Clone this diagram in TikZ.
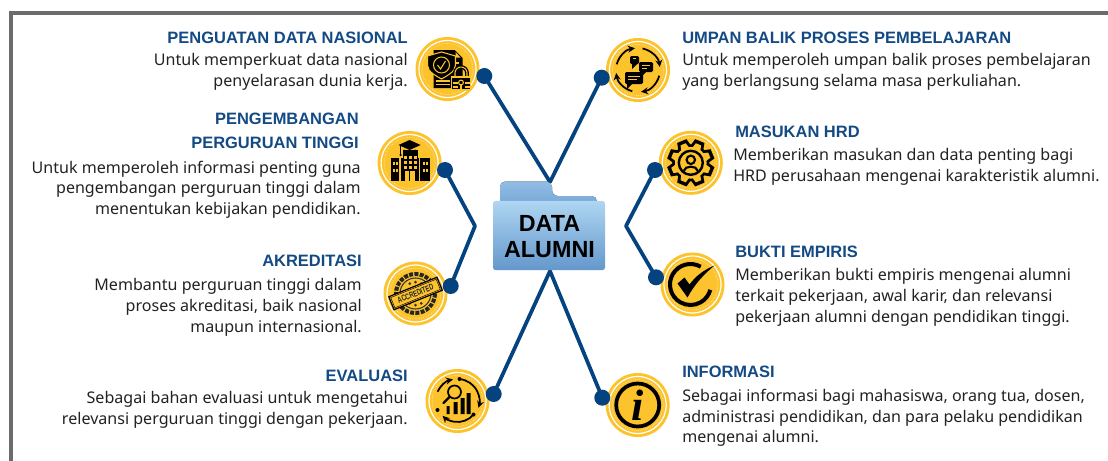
\documentclass[tikz,border=0pt]{standalone}
\usepackage{fontspec}
\setmainfont{Noto Sans}
\newfontfamily\serifi{Liberation Serif}
\newfontfamily\headf{Liberation Sans}
\definecolor{navy}{HTML}{04437F}
\definecolor{titleblue}{HTML}{134A84}
\definecolor{gold}{HTML}{FCC32C}
\definecolor{barcol}{HTML}{6B6B6B}
\definecolor{bodyc}{HTML}{222222}
\definecolor{fldA}{HTML}{AFD6F2}
\definecolor{fldB}{HTML}{6497CC}
\definecolor{tabA}{HTML}{8FBDE4}
\definecolor{tabB}{HTML}{6E9FD2}
\tikzset{
  x=0.75pt,y=-0.75pt,
  conn/.style={draw=navy,line width=2.8pt,line join=round},
  dot/.style={circle,fill=navy,minimum size=12pt,inner sep=0pt},
  ttl/.style={font=\fontsize{12.35}{14.5}\headf\bfseries,text=titleblue,inner sep=0pt},
  bodyR/.style={font=\fontsize{12.05}{15.4}\selectfont,text=bodyc,align=right,inner sep=0pt,anchor=north east},
  bodyL/.style={font=\fontsize{12.05}{15.4}\selectfont,text=bodyc,align=left,inner sep=0pt,anchor=north west},
  gline/.style={draw=gold,line width=0.8pt},
  arr/.style={draw=black,line width=1.3pt,->,>=stealth},
}
\newcommand{\badge}[1]{%
  \fill[gold] (#1) circle[radius=32];
  \draw[white,line width=0.9pt] (#1) circle[radius=28.5];
  \draw[white,line width=0.4pt,densely dotted] (#1) circle[radius=25.5];
}
\newcommand{\bubble}[4]{% x y w h
  \fill[black,rounded corners=1pt] (#1,#2) rectangle ++(#3,#4);
  \fill[black] (#1+2,#2+#4-1) -- ++(0,6) -- ++(6,-6) -- cycle;
  \draw[gline,line width=0.6pt] (#1+3,#2+#4*0.35) -- ++(#3-6,0) (#1+3,#2+#4*0.65) -- ++(#3-9,0);
}
% arc given in screen angles (counter-clockwise from the right), arrow at its end
\newcommand{\cyc}[3]{\draw[arr] ({-(#1)}:#3) arc ({-(#1)}:{-(#2)}:#3);}
\begin{document}
\begin{tikzpicture}
\useasboundingbox (0,0) rectangle (1108,461);
\fill[barcol] (9,11) rectangle (1108,15);
\fill[barcol] (9,11) rectangle (13,461);

% badges
\coordinate (pA) at (447.5,69);
\coordinate (pB) at (409.6,163);
\coordinate (pC) at (415.5,293.5);
\coordinate (pD) at (457.5,401);
\coordinate (pE) at (638,70);
\coordinate (pF) at (690.8,162.8);
\coordinate (pG) at (692.5,284.5);
\coordinate (pH) at (637.7,405);
\badge{pA}\badge{pB}\badge{pC}\badge{pD}\badge{pE}\badge{pF}\badge{pG}\badge{pH}

% junctions and connectors
\coordinate (top) at (550,182);
\coordinate (bot) at (550,271);
\coordinate (lj) at (475,226);
\coordinate (rj) at (626,226);
\draw[conn] (484.3,76) coordinate (cA) -- (top) -- (601.7,77.7) coordinate (cE);
\draw[conn] (445,170) coordinate (cB) -- (lj) -- (450.7,286) coordinate (cC);
\draw[conn] (655,170) coordinate (cF) -- (rj) -- (656,277.3) coordinate (cG);
\draw[conn] (493.7,394) coordinate (cD) -- (bot) -- (602.3,397.7) coordinate (cH);
\foreach \c in {A,B,C,D,E,F,G,H} {\node[dot] (d\c) at (c\c) {};}

% folder
\fill[rounded corners=4pt,top color=tabA,bottom color=tabB] (500,215) -- (500,181.5) -- (552,181.5) -- (552,196) -- (597,196) -- (597,215) -- cycle;
\node[rounded corners=2pt,top color=fldA,bottom color=fldB,minimum width=84pt,minimum height=52pt,inner sep=0pt] (folder) at (549,235.5) {};
\node[inner sep=0pt,align=center,font=\fontsize{17.5}{19.5}\headf\bfseries,text=black] (foldertext) at (549.5,237) {DATA\\ALUMNI};

% icon A: document, shield, lock
\begin{scope}[shift={(pA)}]
  \fill[black] (-14,-19) -- (7,-19) -- (15,-11) -- (15,19) -- (-14,19) -- cycle;
  \fill[gold] (8,-17) -- (13,-11.5) -- (8,-11.5) -- cycle;
  \draw[gline] (4,-6) -- (11,-6) (4,-1) -- (11,-1) (-12,12) -- (2,12) (-12,15.5) -- (2,15.5);
  \fill[black,draw=gold,line width=0.8pt] (-6,-17) -- (-20,-13) -- (-20,-4) .. controls (-20,3) and (-11,7) .. (-6,10) .. controls (-1,7) and (8,3) .. (8,-4) -- (8,-13) -- cycle;
  \draw[gline] (-6,-4) circle[radius=8];
  \draw[gline] (-10,-4) -- (-7,0) -- (-2,-8);
  \draw[black,line width=2.8pt] (7.5,9) -- (7.5,4) arc (180:360:6) -- (19.5,9);
  \draw[gold,line width=0.8pt] (7.5,9) -- (7.5,4) arc (180:360:6) -- (19.5,9);
  \fill[black,draw=gold,line width=0.8pt] (4,8) rectangle (23,21);
  \draw[gline] (5,14) -- (10,14) (17,14) -- (22,14) (5,18) -- (10,18) (17,18) -- (22,18);
  \draw[gline] (13.5,13.5) circle[radius=2.4];
  \draw[gline] (13.5,16) -- (13.5,20);
\end{scope}

% icon B: school building
\begin{scope}[shift={(pB)}]
  \fill[black] (-7,-13) rectangle (8,-5);
  \fill[black] (-9,-5) rectangle (9,18);
  \fill[black] (-19,-5) rectangle (-10.5,18);
  \fill[black] (10.5,-5) rectangle (20,18);
  \foreach \y in {-1,6} {
    \fill[gold] (-17,\y) rectangle (-15,\y+3);
    \fill[gold] (-14,\y) rectangle (-12,\y+3);
    \fill[gold] (13,\y) rectangle (15,\y+3);
    \fill[gold] (16,\y) rectangle (18,\y+3);
  }
  \foreach \x in {-6,-1,4} \foreach \y in {-7,-2,3} {\fill[gold] (\x,\y) rectangle (\x+3,\y+3);}
  \fill[gold] (-5,8) rectangle (5,18);
  \draw[black,line width=0.7pt] (0,8) -- (0,18);
  \fill[black] (0,-23) -- (11,-18) -- (0,-13) -- (-11,-18) -- cycle;
  \fill[black] (-6,-13.5) -- (0,-11) -- (6,-13.5) -- (6,-10) -- (0,-8) -- (-6,-10) -- cycle;
  \draw[black,line width=0.7pt] (-9,-18) -- (-9,-9);
  \fill[black] (-9,-8) circle[radius=1.3];
\end{scope}

% icon C: stamp
\begin{scope}[shift={(pC)}]
  \draw[black!85,line width=3pt,densely dotted] (0,0) circle[radius=19.5];
  \draw[black!80,line width=0.8pt] (0,0) circle[radius=15.5];
  \foreach \a in {60,90,120,240,270,300} {\fill[black!80] (\a:11.5) circle[radius=1.5];}
  \begin{scope}[rotate=22]
    \fill[gold,draw=black,line width=0.9pt] (-26,-7) rectangle (26,7);
    \draw[black,line width=0.35pt] (-24.5,-5.5) rectangle (24.5,5.5);
    \node[inner sep=0pt,font=\fontsize{6.4}{7}\headf\bfseries,text=black!85,rotate=22] (stamp) at (0,0) {\scalebox{0.68}[1]{ACCREDITED}};
  \end{scope}
\end{scope}

% icon D: analytics
\begin{scope}[shift={(pD)}]
  \cyc{155}{102}{22}
  \cyc{85}{-18}{22}
  \cyc{-40}{-135}{21}
  \fill[black] (-20,9) circle[radius=2] (2,-22) circle[radius=2] (16,13.5) circle[radius=2];
  \fill[black] (-11,5) rectangle (-8,13) (-4,1) rectangle (0,13) (3,-3) rectangle (7,13) (9,-8) rectangle (13,13);
  \draw[black,line width=1.3pt,fill=gold] (-3,-9) circle[radius=6.5];
  \draw[black,line width=1.8pt,line cap=round] (-8,-4) -- (-14,2);
\end{scope}

% icon E: chat cycle
\begin{scope}[shift={(pE)}]
  \cyc{165}{98}{22}
  \cyc{78}{8}{22}
  \cyc{-15}{-82}{22}
  \cyc{-105}{-172}{22}
  \bubble{-8}{-14}{9}{8}
  \bubble{1}{-8}{14}{10}
  \bubble{-13}{2}{18}{12}
\end{scope}

% icon F: gear with person
\begin{scope}[shift={(pF)}]
  \foreach \a in {0,45,...,315} {
    \begin{scope}[rotate=\a+22.5]
      \fill[black] (15,-7) -- (23.5,-5) -- (23.5,5) -- (15,7) -- cycle;
    \end{scope}
  }
  \fill[black] (0,0) circle[radius=18.5];
  \foreach \a in {0,45,...,315} {
    \begin{scope}[rotate=\a+22.5]
      \fill[gold] (13.5,-4.5) -- (20,-2.8) -- (20,2.8) -- (13.5,4.5) -- cycle;
    \end{scope}
  }
  \fill[gold] (0,0) circle[radius=15.8];
  \draw[black,line width=1.8pt] (0,0) circle[radius=12];
  \draw[black,line width=1.6pt] (0,-3) circle[radius=4.2];
  \draw[black,line width=1.6pt] (-7,8) .. controls (-6,2.5) and (6,2.5) .. (7,8);
\end{scope}

% icon G: check ring
\begin{scope}[shift={(pG)}]
  \draw[black,line width=3pt] ({-2+20.5*cos(-60)},{20.5*sin(-60)}) arc (-60:-345:20.5);
  \fill[black] (-15,-1) -- (-8,-7) -- (-3,0) .. controls (3,-8) and (10,-14) .. (22,-19) .. controls (11,-10) and (2,0) .. (-5,13) -- cycle;
\end{scope}

% icon H: info
\begin{scope}[shift={(pH)}]
  \draw[black,line width=2.8pt] (0,0) circle[radius=21.5];
  \node[inner sep=0pt,font=\fontsize{33}{33}\serifi\bfseries\itshape,text=black] (infoi) at (0,0) {i};
\end{scope}

% text
\node[ttl,anchor=east] (tA) at (408,38) {PENGUATAN DATA NASIONAL};
\node[bodyR] (bA) at (408,53.5) {Untuk memperkuat data nasional\\penyelarasan dunia kerja.};
\node[ttl,anchor=east] (tB) at (359,118.5) {PENGEMBANGAN};
\node[ttl,anchor=east] (tB2) at (359,142.5) {PERGURUAN TINGGI};
\node[bodyR] (bB) at (361,160.5) {Untuk memperoleh informasi penting guna\\pengembangan perguruan tinggi dalam\\menentukan kebijakan pendidikan.};
\node[ttl,anchor=east] (tC) at (362,261) {AKREDITASI};
\node[bodyR] (bC) at (362,278.5) {Membantu perguruan tinggi dalam\\proses akreditasi, baik nasional\\maupun internasional.};
\node[ttl,anchor=east] (tD) at (408,376) {EVALUASI};
\node[bodyR] (bD) at (408,391) {Sebagai bahan evaluasi untuk mengetahui\\relevansi perguruan tinggi dengan pekerjaan.};
\node[ttl,anchor=west] (tE) at (682,38) {UMPAN BALIK PROSES PEMBELAJARAN};
\node[bodyL] (bE) at (682,53.5) {Untuk memperoleh umpan balik proses pembelajaran\\yang berlangsung selama masa perkuliahan.};
\node[ttl,anchor=west] (tF) at (735,132) {MASUKAN HRD};
\node[bodyL] (bF) at (733,148.5) {Memberikan masukan dan data penting bagi\\HRD perusahaan mengenai karakteristik alumni.};
\node[ttl,anchor=west] (tG) at (735,252) {BUKTI EMPIRIS};
\node[bodyL] (bG) at (735,268.5) {Memberikan bukti empiris mengenai alumni\\terkait pekerjaan, awal karir, dan relevansi\\pekerjaan alumni dengan pendidikan tinggi.};
\node[ttl,anchor=west] (tH) at (682,372) {INFORMASI};
\node[bodyL] (bH) at (682,389) {Sebagai informasi bagi mahasiswa, orang tua, dosen,\\administrasi pendidikan, dan para pelaku pendidikan\\mengenai alumni.};
\end{tikzpicture}
\end{document}
